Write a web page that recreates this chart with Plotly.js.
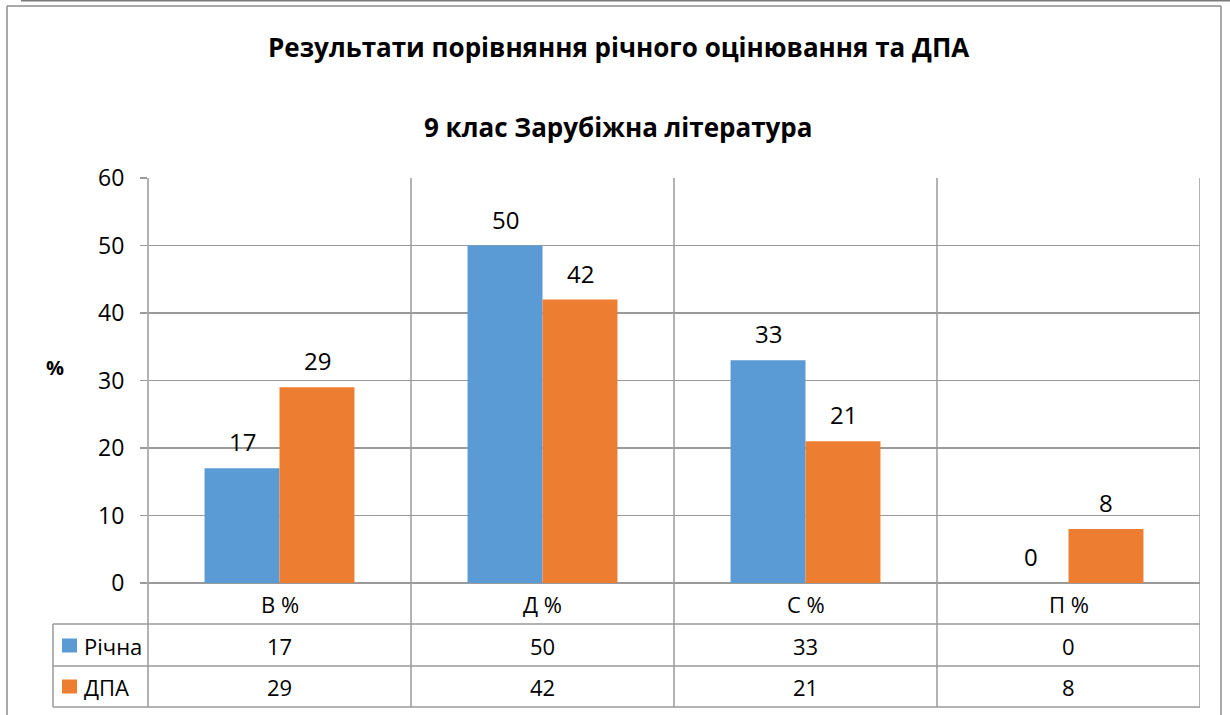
<!DOCTYPE html>
<html>
<head>
<meta charset="utf-8">
<script src="https://cdn.plot.ly/plotly-3.0.1.min.js"></script>
<style>
  html, body { margin: 0; padding: 0; background: #fff; }
  #chart { width: 1230px; height: 715px; }
</style>
</head>
<body>
<div id="chart"></div>
<script>
// data
var categories = ['В %', 'Д %', 'С %', 'П %'];
var seriesNames = ['Річна', 'ДПА'];
var richna = [17, 50, 33, 0];
var dpa = [29, 42, 21, 8];
var colors = ['#5B9BD5', '#ED7D31'];
var titleLines = ['Результати порівняння річного оцінювання та ДПА', '9 клас Зарубіжна література'];

var FONT = 'Open Sans, Liberation Sans, sans-serif';
var GRID = '#9a9a9a';

// plot area in pixels: x 148..1200, y 178..583
var L = 148, R = 1200, T = 178, B = 583;
function px(x) { return (x - L) / (R - L); }
function py(y) { return (B - y) / (B - T); }

var traces = [richna, dpa].map(function (vals, i) {
  return {
    type: 'bar',
    name: seriesNames[i],
    x: categories,
    y: vals,
    marker: { color: colors[i], line: { width: 0 } },
    hoverinfo: 'none'
  };
});

var annotations = [];
var shapes = [];

function label(opts) {
  var a = { showarrow: false, xanchor: 'center', yanchor: 'middle' };
  for (var k in opts) a[k] = opts[k];
  annotations.push(a);
}

// titles
label({ xref: 'paper', yref: 'paper', x: px(618), y: py(47), text: '<b>' + titleLines[0] + '</b>',
  font: { family: FONT, size: 26, color: '#000' } });
label({ xref: 'paper', yref: 'paper', x: px(618), y: py(127), text: '<b>' + titleLines[1] + '</b>',
  font: { family: FONT, size: 26, color: '#000' } });
// y title
label({ xref: 'paper', yref: 'paper', x: px(55), y: py(367), text: '<b>%</b>',
  font: { family: FONT, size: 20, color: '#000' } });

// data labels above bars
[richna, dpa].forEach(function (vals, s) {
  vals.forEach(function (v, i) {
    label({ xref: 'x', yref: 'y', x: categories[i], y: v, xshift: s === 0 ? -37.5 : 37.5,
      yanchor: 'bottom', yshift: 8, text: String(v),
      font: { family: FONT, size: 24, color: '#000' } });
  });
});

// table rows
var rowY = [py(604), py(645.5), py(686.5)];
categories.forEach(function (c, i) {
  label({ xref: 'x', yref: 'paper', x: c, y: rowY[0], text: c,
    font: { family: FONT, size: 22, color: '#000' } });
  label({ xref: 'x', yref: 'paper', x: c, y: rowY[1], text: String(richna[i]),
    font: { family: FONT, size: 22, color: '#000' } });
  label({ xref: 'x', yref: 'paper', x: c, y: rowY[2], text: String(dpa[i]),
    font: { family: FONT, size: 22, color: '#000' } });
});
seriesNames.forEach(function (n, s) {
  var cy = s === 0 ? 645.5 : 686.5;
  label({ xref: 'paper', yref: 'paper', x: px(82), y: py(cy), xanchor: 'left', text: n,
    font: { family: FONT, size: 22, color: '#000' } });
  shapes.push({ type: 'rect', xref: 'paper', yref: 'paper', x0: px(62), x1: px(77), y0: py(cy - 7), y1: py(cy + 7),
    fillcolor: colors[s], line: { width: 0 } });
});

// table grid lines
[624, 666, 707].forEach(function (y) {
  shapes.push({ type: 'line', xref: 'paper', yref: 'paper', x0: px(53), x1: 1, y0: py(y), y1: py(y),
    line: { color: GRID, width: 1.5 } });
});
shapes.push({ type: 'line', xref: 'paper', yref: 'paper', x0: px(53), x1: px(53), y0: py(624), y1: py(707),
  line: { color: GRID, width: 1.5 } });
shapes.push({ type: 'line', xref: 'paper', yref: 'paper', x0: 0, x1: 0, y0: 1, y1: py(707),
  line: { color: GRID, width: 1.5 } });
[0.5, 1.5, 2.5, 3.5].forEach(function (x) {
  shapes.push({ type: 'line', xref: 'x', yref: 'paper', x0: x, x1: x, y0: 1, y1: py(707),
    line: { color: GRID, width: 1.5 } });
});

// outer frame
shapes.push({ type: 'line', xref: 'paper', yref: 'paper', x0: px(7), x1: px(7), y0: py(6), y1: py(730),
  line: { color: '#8c8c8c', width: 1.5 } });
shapes.push({ type: 'line', xref: 'paper', yref: 'paper', x0: px(7), x1: px(1221), y0: py(6), y1: py(6),
  line: { color: '#8c8c8c', width: 1.5 } });
shapes.push({ type: 'line', xref: 'paper', yref: 'paper', x0: px(1221), x1: px(1221), y0: py(6), y1: py(730),
  line: { color: '#8c8c8c', width: 1.5 } });
shapes.push({ type: 'line', xref: 'paper', yref: 'paper', x0: px(21), x1: px(1240), y0: py(0.5), y1: py(0.5),
  line: { color: '#7a7a7a', width: 2 } });

var layout = {
  width: 1230,
  height: 715,
  margin: { l: L, r: 1230 - R, t: T, b: 715 - B, pad: 0 },
  paper_bgcolor: '#fff',
  plot_bgcolor: '#fff',
  showlegend: false,
  barmode: 'group',
  bargap: 0.43,
  bargroupgap: 0,
  xaxis: {
    type: 'category',
    range: [-0.5, 3.5],
    showticklabels: false,
    showgrid: false,
    zeroline: false,
    showline: false,
    ticks: ''
  },
  yaxis: {
    range: [0, 60],
    dtick: 10,
    tick0: 0,
    showgrid: true,
    gridcolor: GRID,
    gridwidth: 1.5,
    zeroline: true,
    zerolinecolor: GRID,
    zerolinewidth: 1.5,
    showline: false,
    ticks: 'outside',
    ticklen: 7,
    tickwidth: 1.5,
    tickcolor: GRID,
    ticklabelstandoff: 11,
    tickfont: { family: FONT, size: 23, color: '#000' }
  },
  shapes: shapes,
  annotations: annotations
};

Plotly.newPlot('chart', traces, layout, { displayModeBar: false, staticPlot: true });
</script>
</body>
</html>
